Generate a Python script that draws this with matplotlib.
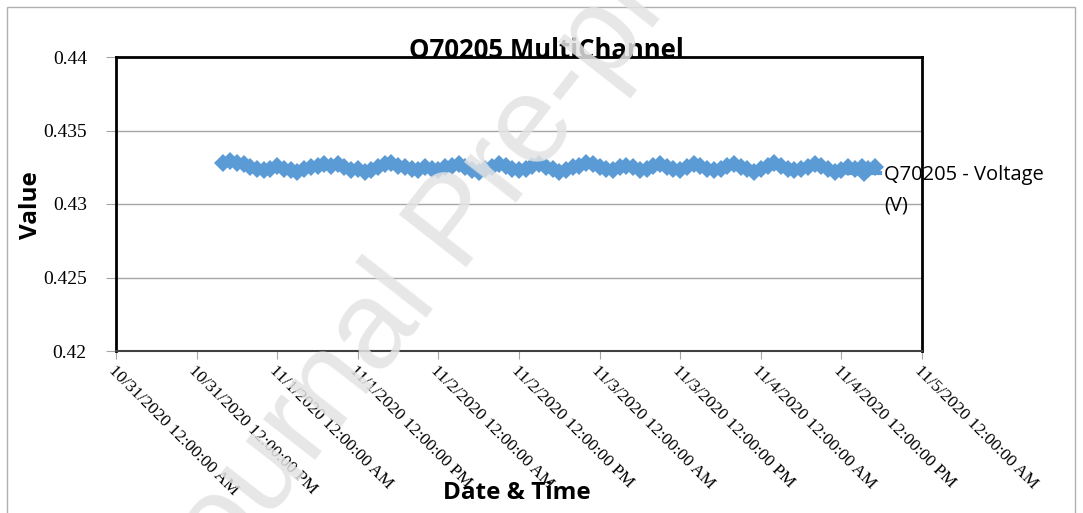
import datetime as dt

import matplotlib
matplotlib.use("Agg")
import matplotlib.pyplot as plt
import matplotlib.dates as mdates
from matplotlib.patches import Rectangle
from matplotlib.ticker import FuncFormatter

# Hourly voltage readings
start = dt.datetime(2020, 10, 31, 16, 0)
voltage = [
    0.4328, 0.4329, 0.4328, 0.4327, 0.4325, 0.4324, 0.4323, 0.4324, 0.4326, 0.4324,
    0.4323, 0.4322, 0.4324, 0.4325, 0.4326, 0.4327, 0.4326, 0.4327, 0.4325, 0.4323,
    0.4324, 0.4322, 0.4323, 0.4325, 0.4327, 0.4328, 0.4326, 0.4325, 0.4324, 0.4323,
    0.4325, 0.4324, 0.4323, 0.4325, 0.4326, 0.4327, 0.4325, 0.4323, 0.4322, 0.4324,
    0.4325, 0.4327, 0.4326, 0.4324, 0.4323, 0.4324, 0.4326, 0.4327, 0.4325, 0.4324,
    0.4322, 0.4323, 0.4325, 0.4326, 0.4328, 0.4327, 0.4325, 0.4324, 0.4323, 0.4325,
    0.4326, 0.4325, 0.4323, 0.4324, 0.4326, 0.4327, 0.4325, 0.4324, 0.4323, 0.4325,
    0.4327, 0.4326, 0.4324, 0.4323, 0.4324, 0.4326, 0.4327, 0.4325, 0.4324, 0.4322,
    0.4324, 0.4326, 0.4328, 0.4326, 0.4324, 0.4323, 0.4324, 0.4325, 0.4327, 0.4326,
    0.4324, 0.4322, 0.4323, 0.4325, 0.4324, 0.4325, 0.4324, 0.4325,
]
times = [start + dt.timedelta(hours=i) for i in range(len(voltage))]

x_start = dt.datetime(2020, 10, 31)
x_end = dt.datetime(2020, 11, 5)
y_ticks = [0.42, 0.425, 0.43, 0.435, 0.44]

title = "Q70205 MultiChannel"
series_name = "Q70205 - Voltage"
blue = "#5B9BD5"


def date_label(v, pos=None):
    d = mdates.num2date(v)
    return f"{d.month}/{d.day}/{d.year} {d:%I:%M:%S %p}"


fig = plt.figure(figsize=(10.83, 5.13), dpi=100)
ax = fig.add_axes([116 / 1083, 1 - 351 / 513, 806 / 1083, 294 / 513])

ax.plot(times, voltage, color=blue, lw=3, marker="D", markersize=9.5,
        markeredgewidth=0, label=series_name, zorder=3)

ax.set_xlim(x_start, x_end)
ax.set_ylim(y_ticks[0], y_ticks[-1])
ax.set_yticks(y_ticks)
ax.yaxis.set_major_formatter(FuncFormatter(lambda v, p: f"{v:g}"))
ax.xaxis.set_major_locator(mdates.HourLocator(byhour=[0, 12]))
ax.xaxis.set_major_formatter(FuncFormatter(date_label))
ax.grid(axis="y", color="#a6a6a6", lw=1)

ax.tick_params(axis="y", length=7, color="#a6a6a6", pad=14)
ax.tick_params(axis="x", length=6, color="#a6a6a6", pad=2)
for lab in ax.get_yticklabels():
    lab.set_family("Liberation Serif")
    lab.set_fontsize(14)
for lab in ax.get_xticklabels():
    lab.set_family("Liberation Serif")
    lab.set_fontsize(12.5)
    lab.set_rotation(-45)
    lab.set_rotation_mode("anchor")
    lab.set_ha("left")
    lab.set_va("top")

for side in ["left", "top", "right"]:
    ax.spines[side].set_color("black")
    ax.spines[side].set_linewidth(2)
ax.spines["bottom"].set_color("#404040")
ax.spines["bottom"].set_linewidth(1.5)

# Legend sits half inside the plot, like the Excel export
leg = ax.legend(loc="center left", bbox_to_anchor=(848 / 1083, 1 - 175 / 513),
                bbox_transform=fig.transFigure, frameon=False, handlelength=1.6,
                handletextpad=0.2, borderaxespad=0, borderpad=0,
                prop={"family": "Open Sans", "size": 14.5})
fig.text(884 / 1083, 1 - 206 / 513, "(V)", family="Open Sans", size=14.5,
         va="center", ha="left")

fig.text(546 / 1083, 1 - 50 / 513, title, ha="center", va="center",
         family="Open Sans", weight="bold", size=18.5, zorder=-1)
fig.text(31 / 1083, 1 - 205 / 513, "Value", rotation=90, ha="center",
         va="center", family="Open Sans", weight="bold", size=17.5)
fig.text(517 / 1083, 1 - 493 / 513, "Date & Time", ha="center", va="center",
         family="Open Sans", weight="bold", size=17.5)

# outer chart border
fig.patches.append(Rectangle((7 / 1083, -0.1), 1068 / 1083, 1.1 - 7 / 513,
                             transform=fig.transFigure, fill=False,
                             edgecolor="#b0b0b0", lw=1))

# watermark
fig.text(458 / 1083, 1 - 225 / 513, "Journal Pre-proof", rotation=52,
         ha="center", va="center", family="Liberation Sans", size=90,
         color="#e3e3e3", alpha=0.85, zorder=10)

fig.savefig("out.png", dpi=100)
